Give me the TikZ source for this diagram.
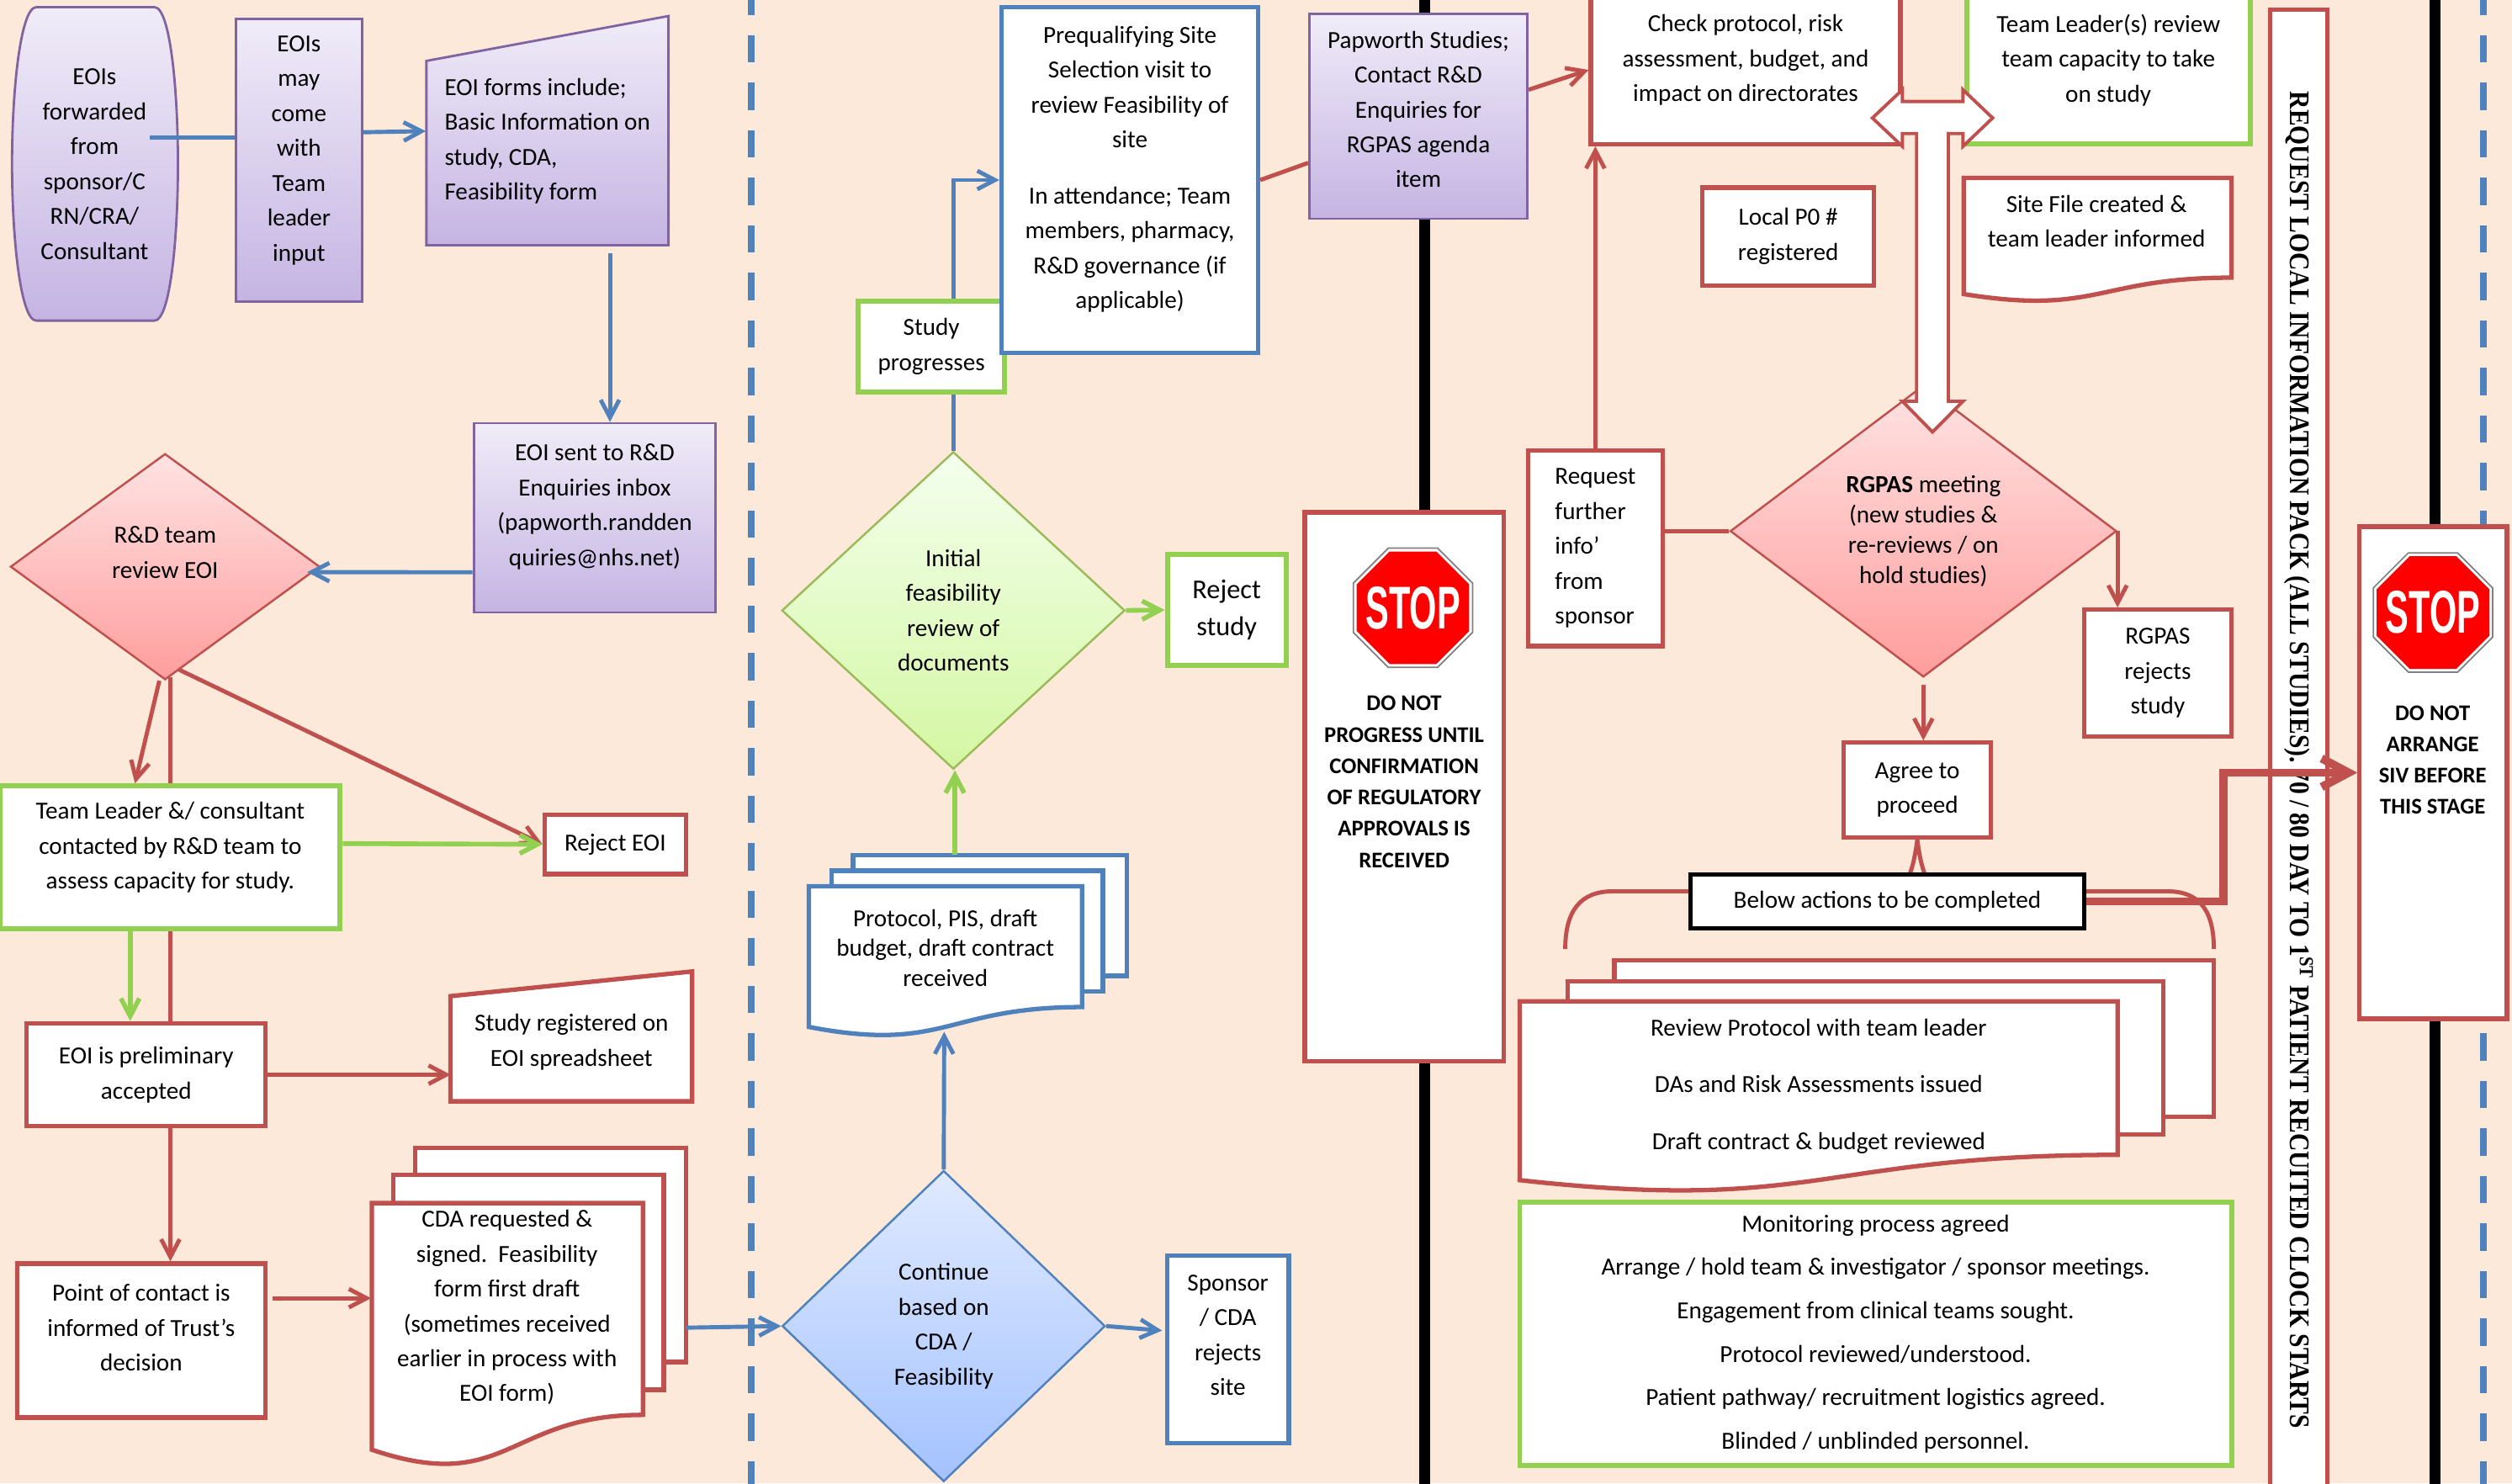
\documentclass[tikz,border=0pt]{standalone}
\usepackage{fontspec}
\setmainfont{Carlito}
\newfontfamily\serifcaps{Liberation Serif}
\newfontfamily\signfont{Liberation Sans}
\usetikzlibrary{calc, shapes.geometric, arrows.meta}

\definecolor{peach}{HTML}{FDE9D9}
\definecolor{redc}{HTML}{C0504D}
\definecolor{bluec}{HTML}{4F81BD}
\definecolor{greenc}{HTML}{92D050}
\definecolor{olivec}{HTML}{9BBB59}
\definecolor{purplec}{HTML}{8064A2}
\definecolor{lavtop}{HTML}{F0ECF8}
\definecolor{lavbot}{HTML}{C5B4E3}
\definecolor{pinktop}{HTML}{FFE3E3}
\definecolor{pinkbot}{HTML}{FF9D9D}
\definecolor{limetop}{HTML}{F4FFEE}
\definecolor{limebot}{HTML}{D4F7A2}
\definecolor{skytop}{HTML}{E0EAFF}
\definecolor{skybot}{HTML}{A4C2FF}

\newcommand{\dpx}{0.19055mm}
\newcommand{\stopword}{\makebox[0pt]{\scalebox{0.58}[1]{\signfont\bfseries\fontsize{20.4}{20}\selectfont STOP}}}

% document page with wavy foot: style, left, right, top, bottom right
\newcommand{\wavydoc}[5]{%
  \pgfmathsetmacro{\docleft}{#4+(#5-#4)*1.1646}%
  \pgfmathsetmacro{\doclow}{#4+(#5-#4)*1.3809}%
  \pgfmathsetmacro{\docmid}{(#2+#3)/2}%
  \draw[#1] (#2,#4) -- (#3,#4) -- (#3,#5) .. controls (\docmid,#5) and (\docmid,\doclow) .. (#2,\docleft) -- cycle;}

\pgfdeclarelayer{paper}
\pgfdeclarelayer{wires}
\pgfsetlayers{paper,wires,main}

\tikzset{
    wh/.style 2 args={minimum width=#1*\dpx, minimum height=#2*\dpx},
    lavbox/.style={draw=purplec, line width=0.8pt, top color=lavtop, bottom color=lavbot},
    redbox/.style={draw=redc, line width=1.5pt, fill=white},
    grnbox/.style={draw=greenc, line width=1.7pt, fill=white},
    blubox/.style={draw=bluec, line width=1.5pt, fill=white},
    pinkdiamond/.style={diamond, draw=redc, line width=0.7pt, top color=pinktop, bottom color=pinkbot},
    limediamond/.style={diamond, draw=olivec, line width=0.7pt, top color=limetop, bottom color=limebot},
    skydiamond/.style={diamond, draw=bluec, line width=0.7pt, top color=skytop, bottom color=skybot},
    signrim/.style={regular polygon, regular polygon sides=8, fill=white, draw=gray, line width=0.5pt},
    signface/.style={regular polygon, regular polygon sides=8, fill=red, text=white},
    stoptext/.style={font=\fontsize{7.6}{10.6}\selectfont\bfseries},
    barb/.style={-{Straight Barb[length=2.1mm, width=2.2mm]}},
    bline/.style={draw=bluec, line width=1.4pt},
    barrow/.style={bline, barb},
    rline/.style={draw=redc, line width=1.4pt},
    rarrow/.style={rline, barb},
    garrow/.style={draw=greenc, line width=1.6pt, barb},
    tarrow/.style={draw=redc, line width=2.8pt, -{Straight Barb[length=3.2mm, width=3.4mm]}},
    bracecurve/.style={draw=redc, line width=1.4pt},
    swimlane/.style={draw=bluec, line width=2.3pt, dash pattern=on 3.24mm off 2.41mm},
    blackbar/.style={draw=black, line width=3.8pt},
    blockarrow/.style={draw=redc, line width=1.1pt, fill=white},
    redshape/.style={draw=redc, line width=1.5pt, fill=white},
    blushape/.style={draw=bluec, line width=1.5pt, fill=white}
}

\begin{document}
\begin{tikzpicture}[x=\dpx, y=-\dpx,
    every node/.style={font=\fontsize{8.3}{11.8}\selectfont, align=center, inner sep=0pt}]

    \useasboundingbox (0,0) rectangle (1567,925.2);
    \begin{pgfonlayer}{paper}
        \fill[peach] (0,0) rectangle (1567,925.2);
    \end{pgfonlayer}

    % lanes
    \begin{pgfonlayer}{wires}
        \draw[swimlane] (468.4,-7.7) -- (468.4,940);
        \draw[swimlane] (1549,-7.7) -- (1549,940);
        \draw[blackbar] (888.6,-5) -- (888.6,935);
        \draw[blackbar] (1518.8,-5) -- (1518.8,935);
    \end{pgfonlayer}

    % first column
    \draw[lavbox] (22.6,4.5) -- (96.4,4.5) .. controls (106,4.5) and (111,55) .. (111,102)
        .. controls (111,150) and (106,200) .. (96.4,200) -- (22.6,200)
        .. controls (13,200) and (7.5,150) .. (7.5,102) .. controls (7.5,55) and (13,4.5) .. (22.6,4.5) -- cycle;
    \node (eoifwd) at (59,102.5) {EOIs\\forwarded\\from\\sponsor/C\\RN/CRA/\\Consultant};
    \node[lavbox, wh={79}{176}] (eoimay) at (186.5,100) {EOIs\\may\\come\\with\\Team\\leader\\input\\[-3.6pt]\mbox{}};
    \draw[lavbox] (266,153) -- (417,153) -- (417,10) -- (266,38) -- cycle;
    \node[wh={151}{130}, align=left] (eoiforms) at (341.5,88) {EOI forms include;\\Basic Information on\\study, CDA,\\Feasibility form};
    \node[lavbox, wh={151}{118}] (eoisent) at (371,323) {EOI sent to R\&D\\Enquiries inbox\\(papworth.randden\\quiries@nhs.net)\\[-3pt]\mbox{}};
    \node[pinkdiamond, wh={193}{141}] (rdreview) at (103,353.5) {R\&D team\\review EOI\\[-2pt]\mbox{}};
    \node[grnbox, wh={212}{89}] (tlcontact) at (106.2,534.7) {Team Leader \&/ consultant\\contacted by R\&D team to\\assess capacity for study.\\[-4pt]\mbox{}};
    \node[redbox, wh={88}{37}] (rejeoi) at (383.8,526.7) {Reject EOI};
    \node[redbox, wh={149}{64}] (prelim) at (91.2,670.4) {EOI is preliminary\\accepted};
    \draw[redshape] (281,687) -- (431.7,687) -- (431.7,606) -- (281,621.4) -- cycle;
    \node[wh={150}{64}] (studyreg) at (356.5,650) {Study registered on\\EOI spreadsheet};
    \node[redbox, wh={155}{96}] (poc) at (88.1,836.2) {Point of contact is\\informed of Trust’s\\decision\\[-3pt]\mbox{}};
    \draw[redshape] (259,716) rectangle (428,849.6);
    \draw[redshape] (245.5,733) rectangle (414,867);
    \wavydoc{redshape}{232}{401}{750.5}{882.6}
    \node[wh={169}{20}] (cda) at (316.3,815.6) {CDA requested \&\\signed.\ \ Feasibility\\form first draft\\(sometimes received\\earlier in process with\\EOI form)};
    \coordinate (fwdout) at (93.4,86);
    \coordinate (cdaback) at (427.8,828.2);

    % second column
    \node[skydiamond, wh={201.5}{194}] (contd) at (588.7,827.2) {Continue\\based on\\CDA /\\Feasibility};
    \node[blubox, wh={76}{117}] (sponsor) at (766,841.8) {Sponsor\\/ CDA\\rejects\\site\\[-2pt]\mbox{}};
    \draw[blushape] (532.1,533.4) rectangle (702.8,608.7);
    \draw[blushape] (518.7,543.1) rectangle (688,618.4);
    \wavydoc{blushape}{504.6}{675}{552.8}{628.2}
    \node[font=\fontsize{8.3}{10.1}\selectfont] (protocol) at (589.7,591.4) {Protocol, PIS, draft\\budget, draft contract\\received};
    \coordinate (protop) at (595.7,533.4);
    \coordinate (protobot) at (589,643.6);
    \node[limediamond, wh={214}{198}] (initial) at (594.7,380.8) {Initial\\feasibility\\review of\\documents};
    \node[grnbox, wh={74}{69}, font=\fontsize{9.2}{12.7}\selectfont] (rejstudy) at (765.2,380.5) {Reject\\study};
    \node[grnbox, wh={91}{57}] (progress) at (581,216.2) {Study\\progresses};
    \node[blubox, wh={160}{216}] (prequal) at (704.8,112.3) {Prequalifying Site\\Selection visit to\\review Feasibility of\\site\\[7.2pt]In attendance; Team\\members, pharmacy,\\R\&D governance (if\\applicable)\\[-3.2pt]\mbox{}};
    \node[lavbox, wh={136}{127.6}] (papworth) at (884.8,72.6) {Papworth Studies;\\Contact R\&D\\Enquiries for\\RGPAS agenda\\item\\[-7pt]\mbox{}};
    \node[redbox, wh={124}{342.5}] (stopbox1) at (875.9,490.8) {};
    \node[signrim, minimum size=80.5*\dpx] (sign1) at (881.4,379.1) {};
    \node[signface, minimum size=76*\dpx] (face1) at (sign1) {\stopword};
    \node[stoptext] (stoptxt1) at (875.9,487.7) {DO NOT\\PROGRESS UNTIL\\CONFIRMATION\\OF REGULATORY\\APPROVALS IS\\RECEIVED};

    % third column
    \node[redbox, wh={193}{105}] (check) at (1088.9,37.4) {Check protocol, risk\\assessment, budget, and\\impact on directorates};
    \node[grnbox, wh={177}{105}] (tlreview) at (1315.2,37.4) {Team Leader(s) review\\team capacity to take\\on study};
    \node[redbox, wh={107}{61}] (localpo) at (1115.5,147.5) {Local P0 \#\\registered};
    \wavydoc{redshape}{1225}{1392}{111}{173.2}
    \node (sitefile) at (1307.8,138) {Site File created \&\\team leader informed};
    \node[pinkdiamond, wh={241}{182}, font=\fontsize{8.3}{10.2}\selectfont] (rgpas) at (1199.8,331.3) {\textbf{RGPAS} meeting\\(new studies \&\\re-reviews / on\\hold studies)};
    \node[redbox, wh={84}{122}, align=left] (request) at (995.2,342.1) {Request\\further\\info’\\from\\sponsor};
    \node[redbox, wh={92}{79}] (rgrej) at (1346,419.8) {RGPAS\\rejects\\study};
    \node[redbox, wh={92}{59}] (agree) at (1196,492.8) {Agree to\\proceed};
    \draw[redshape] (1007,599) rectangle (1381,696.7);
    \draw[redshape] (978,612) rectangle (1349.5,707.6);
    \wavydoc{redshape}{948}{1321}{624.6}{720.4}
    \node[font=\fontsize{8.3}{19.2}\selectfont] (actions) at (1134.5,677.5) {Review Protocol with team leader\\DAs and Risk Assessments issued\\Draft contract \& budget reviewed};
    \node[draw=black, line width=1.6pt, fill=white, wh={245.5}{33.6}] (below) at (1177.3,562.3) {Below actions to be completed};
    \node[grnbox, wh={444}{164}, font=\fontsize{8.3}{14.7}\selectfont] (monitor) at (1170,832) {Monitoring process agreed\\Arrange / hold team \& investigator / sponsor meetings.\\Engagement from clinical teams sought.\\Protocol reviewed/understood.\\Patient pathway/ recruitment logistics agreed.\\Blinded / unblinded personnel.};
    \node[redbox, rotate=-90, wh={936}{35.4}, font=\serifcaps\bfseries\fontsize{8.42}{10}\selectfont] (clock) at (1433.9,474) {\scalebox{1}[1.14]{REQUEST LOCAL INFORMATION PACK (ALL STUDIES). 70 / 80 DAY TO 1\textsuperscript{ST} PATIENT RECUITED CLOCK STARTS}};
    \node[redbox, wh={92}{307}] (stopbox2) at (1517.9,482) {};
    \node[signrim, minimum size=80.5*\dpx] (sign2) at (1517.7,382.1) {};
    \node[signface, minimum size=76*\dpx] (face2) at (sign2) {\stopword};
    \node[stoptext] (stoptxt2) at (1517.5,474) {DO NOT\\ARRANGE\\SIV BEFORE\\THIS STAGE};

    % block arrow between the checks and the meeting
    \draw[blockarrow] (1168,73.6) -- (1186.7,56) -- (1186.7,63.3) -- (1224.5,63.3) -- (1224.5,56) -- (1243,73.6)
        -- (1224.5,91.3) -- (1224.5,83.3) -- (1215.4,83.3) -- (1215.4,250.3) -- (1224.5,250.3) -- (1205.5,269.5)
        -- (1186.7,250.3) -- (1195.6,250.3) -- (1195.6,83.3) -- (1186.7,83.3) -- (1186.7,91.3) -- cycle;

    % connectors behind boxes
    \begin{pgfonlayer}{wires}
        \draw[rline] ($(rdreview.south)+(3.3,-2)$) -- ($(prelim.north)+(15.1,0)$);
        \draw[barrow] (initial.north) |- (prequal.west);
        \draw[bracecurve] (976.4,592) .. controls (976.4,568) and (986,556) .. (1006,556) -- (1180,556)
            .. controls (1190,556) and (1194,540) .. (agree.south) .. controls (1198,540) and (1202,556) .. (1212,556)
            -- (1352,556) .. controls (1372,556) and (1381,568) .. (1381,592);
    \end{pgfonlayer}

    % connectors
    \draw[bline] (fwdout) -- (fwdout -| eoimay.west);
    \draw[barrow] ($(eoimay.east)+(0,-17.5)$) -- ($(eoiforms.west)+(0,-6.2)$);
    \draw[barrow] ($(eoiforms.south)+(39,4.6)$) -- ($(eoisent.north)+(9.5,0)$);
    \draw[barrow] ($(eoisent.west)+(0,34)$) -- ($(rdreview.east)+(-8.5,3.4)$);
    \draw[rarrow] ($(rdreview.south)+(-3.6,0)$) -- ($(tlcontact.north)+(-22,0)$);
    \draw[rarrow] ($(rdreview.south)+(8.5,-7)$) -- (rejeoi.west);
    \draw[garrow] ($(tlcontact.east)+(0,-8.5)$) -- (rejeoi.west);
    \draw[garrow] ($(tlcontact.south)+(-25,0)$) -- ($(prelim.north)+(-10,0)$);
    \draw[rarrow] (prelim.east) -- (prelim.east -| studyreg.west);
    \draw[rarrow] ($(prelim.south)+(15.1,0)$) -- ($(poc.north)+(18.2,0)$);
    \draw[rarrow] ($(poc.east)+(3,-26.4)$) -- ($(cda.west)+(0,-5.8)$);
    \draw[barrow] (cdaback) -- (contd.west);
    \draw[barrow] (contd.north) -- (protobot);
    \draw[barrow] (contd.east) -- ($(sponsor.west)+(-1.7,-11.8)$);
    \draw[garrow] (protop) -- (protop |- initial.south);
    \draw[garrow] (initial.east) -- (rejstudy.west);
    \draw[rline] (prequal.east) -- ($(papworth.west)+(0,29)$);
    \draw[rarrow] ($(papworth.east)+(0,-16.6)$) -- ($(check.west)+(0,6.2)$);
    \draw[rline] (rgpas.west) -- (rgpas.west -| request.east);
    \draw[rarrow] (request.north) -- (request.north |- check.south);
    \draw[rarrow] (rgpas.east) -- (rgpas.east |- rgrej.north);
    \draw[rarrow] ($(rgpas.south)+(0,4)$) -- (rgpas.south |- agree.north);
    \draw[tarrow] (below.east) -- ++(85.3,0) |- (stopbox2.west);
\end{tikzpicture}
\end{document}
